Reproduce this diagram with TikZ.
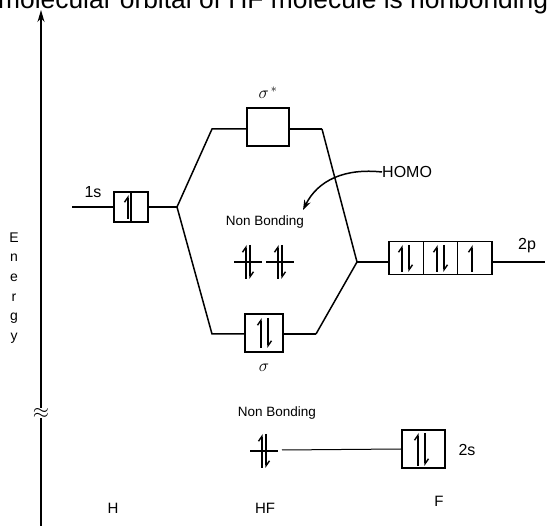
\documentclass[tikz,border=0pt]{standalone}
\usepackage{fontspec}
\setmainfont{Liberation Sans}
\usetikzlibrary{arrows.meta}
\begin{document}
\begin{tikzpicture}[x=1pt,y=-1pt,
  orb/.style={line width=1.5pt},
  obox/.style={draw,line width=1.5pt,inner sep=0pt},
  elec/.style={line width=1.4pt,-{Straight Barb[left,length=5pt,width=7pt]}},
  lbl/.style={inner sep=0pt,font=\fontsize{13.5}{14}\selectfont},
  big/.style={inner sep=0pt,font=\fontsize{16}{16}\selectfont},
  nbpair/.pic={\draw[orb] (-14,0) -- (14,0);
               \draw[elec] (-2,17) -- (-2,-17);
               \draw[elec] (2,-17) -- (2,17);}
]
\useasboundingbox (0,0) rectangle (547,526);
% title line (cut off at top, as in the reference)
\node[anchor=base west,inner sep=0pt] (title) at (-2,9)
  {\resizebox{550pt}{!}{molecular orbital of HF molecule is nonbonding}};
% energy axis
\node[inner sep=0pt,font=\fontsize{20}{20}\selectfont] (apx) at (41,413) {$\approx$};
\coordinate (axbot) at (41,526);
\coordinate (axtop) at (41,10);
\draw[line width=1.5pt] (axbot) -- (apx.south);
\draw[line width=1.5pt,-{Stealth[length=12pt,width=7pt]}] (apx.north) -- (axtop);
\node[align=center,inner sep=0pt,font=\fontsize{14}{19.6}\selectfont] (energy) at (14,288) {E\\n\\e\\r\\g\\y};
% H 1s
\node[obox,minimum width=17pt,minimum height=30pt] (s1a) at (122.5,207) {};
\node[obox,minimum width=17pt,minimum height=30pt] (s1b) at (139.5,207) {};
\draw[elec] (128,219) -- (128,195);
\coordinate (h1) at (72,207);
\draw[orb] (h1) -- (s1a.west);
\node[big] (l1s) at (93,192) {1s};
\coordinate (jl) at (177,207);
\draw[orb] (s1b.east) -- (jl);
% sigma*
\node[obox,minimum width=42pt,minimum height=38pt] (sst) at (268,127) {};
\node[inner sep=0pt,font=\fontsize{18}{18}\selectfont] (lsst) at (268,93) {$\sigma^{\,*}$};
\coordinate (sl) at (212,129);
\coordinate (sr) at (322,129);
\draw[orb] (jl) -- (sl) -- (sst.west |- sl);
\draw[orb] (sst.east |- sr) -- (sr);
% sigma
\node[obox,minimum width=38pt,minimum height=38pt] (sg) at (264,333) {};
\draw[elec] (261,348) -- (261,318);
\draw[elec] (268,318) -- (268,348);
\node[inner sep=0pt,font=\fontsize{18}{18}\selectfont] (lsg) at (264,368) {$\sigma$};
\coordinate (bl) at (212,334);
\coordinate (br) at (316,334);
\draw[orb] (jl) -- (bl) -- (sg.west |- bl);
\draw[orb] (sg.east |- br) -- (br);
% F 2p
\node[obox,minimum width=34.3pt,minimum height=33pt] (p1) at (406.2,258) {};
\node[obox,minimum width=34.3pt,minimum height=33pt] (p2) at (440.5,258) {};
\node[obox,minimum width=34.3pt,minimum height=33pt] (p3) at (474.8,258) {};
\draw[elec] (402,272) -- (402,245);
\draw[elec] (409,245) -- (409,272);
\draw[elec] (437,272) -- (437,245);
\draw[elec] (444,245) -- (444,272);
\draw[elec] (472,272) -- (472,245);
\coordinate (jr) at (357,262);
\coordinate (p2r) at (545,262);
\draw[orb] (sr) -- (jr) -- (br);
\draw[orb] (jr) -- (p1.west |- jr);
\draw[orb] (p3.east |- p2r) -- (p2r);
\node[big] (l2p) at (527,246) {2p};
% nonbonding (upper)
\node[lbl] (nb1) at (265,222) {Non Bonding};
\pic at (248,262) {nbpair};
\pic at (280,262) {nbpair};
% HOMO
\node[big,anchor=west] (homo) at (382,172) {HOMO};
\coordinate (htip) at (303,210);
\draw[line width=1.5pt,-{Stealth[length=10pt,width=7pt]}] (homo.west) .. controls (345,168) and (318,180) .. (htip);
% nonbonding (lower)
\node[lbl] (nb2) at (277,413) {Non Bonding};
\pic at (264,451) {nbpair};
\coordinate (nbr) at (282,450);
% F 2s
\node[obox,minimum width=43pt,minimum height=38pt] (s2) at (423.5,449) {};
\draw[elec] (418,466) -- (418,433);
\draw[elec] (425,433) -- (425,466);
\draw[line width=1pt] (nbr) -- (s2.west);
\node[big] (l2s) at (467,450) {2s};
% atom labels
\node[lbl,font=\fontsize{15}{15}\selectfont] (lH) at (113,508) {H};
\node[lbl,font=\fontsize{15}{15}\selectfont] (lHF) at (265,508) {HF};
\node[lbl,font=\fontsize{15}{15}\selectfont] (lF) at (439,501) {F};
\end{tikzpicture}
\end{document}
